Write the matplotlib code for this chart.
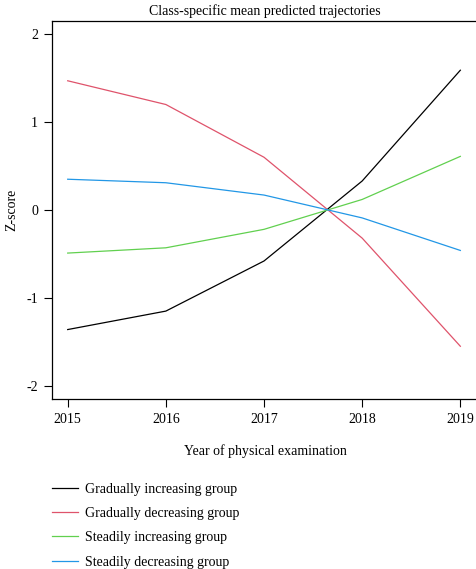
import matplotlib
matplotlib.use("Agg")
import matplotlib.pyplot as plt

plt.rcParams['font.family'] = ['Liberation Serif', 'DejaVu Serif']

years = ["2015", "2016", "2017", "2018", "2019"]
visits = [1, 2, 3, 4, 5]

groups = ["Gradually increasing group", "Gradually decreasing group",
          "Steadily increasing group", "Steadily decreasing group"]
colors = ["black", "#DF536B", "#61D04F", "#2297E6"]

grad_inc = [-1.36, -1.15, -0.58, 0.33, 1.59]
grad_dec = [1.47, 1.20, 0.60, -0.32, -1.55]
stead_inc = [-0.49, -0.43, -0.22, 0.12, 0.61]
stead_dec = [0.35, 0.31, 0.17, -0.09, -0.46]
series = [grad_inc, grad_dec, stead_inc, stead_dec]

y_ticks = [-2, -1, 0, 1, 2]

fig = plt.figure(figsize=(4.76, 5.69), dpi=100)
ax = fig.add_axes([52/476, 1 - 399/569, 426/476, 378/569])

lines = []
for vals, name, c in zip(series, groups, colors):
    ln, = ax.plot(visits, vals, color=c, lw=0.9, label=name)
    lines.append(ln)

ax.set_xlim(0.84, 5.18)
ax.set_ylim(-2.15, 2.15)
ax.set_xticks(visits)
ax.set_xticklabels(years)
ax.set_yticks(y_ticks)
ax.set_yticklabels([str(v) for v in y_ticks])
ax.tick_params(length=6, width=0.8, labelsize=10, pad=4)
for s in ax.spines.values():
    s.set_linewidth(0.9)

ax.set_title("Class-specific mean predicted trajectories", fontsize=10, pad=4)
ax.set_xlabel("Year of physical examination", fontsize=10, labelpad=13)
ax.set_ylabel("Z-score", fontsize=10, labelpad=6)

fig.legend(handles=lines, loc="upper left", bbox_to_anchor=(46/476, 1 - 477/569),
           frameon=False, fontsize=10, handlelength=1.9, labelspacing=0.82,
           handletextpad=0.5, borderaxespad=0)

fig.savefig("out.png", dpi=100)
